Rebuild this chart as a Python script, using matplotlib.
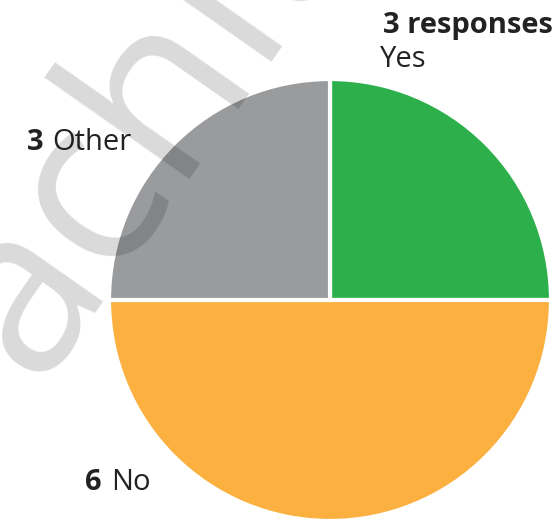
import matplotlib.pyplot as plt

labels = ['Yes', 'No', 'Other']
counts = [3, 6, 3]
colors = ['#2db04b', '#fbb040', '#9a9b9d']

plt.rcParams['font.family'] = ['Open Sans', 'DejaVu Sans']

fig = plt.figure(figsize=(5.54, 5.22), dpi=100)
ax = fig.add_axes([0, 0, 1, 1])

# pie in pixel coords (y down), so go counterclockwise to look clockwise
ax.pie(counts, colors=colors, center=(330, 300), radius=221,
       startangle=-90, counterclock=True,
       wedgeprops=dict(edgecolor='white', linewidth=3))
ax.set_xlim(0, 554)
ax.set_ylim(522, 0)
ax.set_aspect('auto')
ax.axis('off')

# watermark
ax.text(36, 384, 'achit', fontsize=168, color='black',
        alpha=0.15, rotation=55, rotation_mode='anchor',
        ha='left', va='baseline', zorder=5)

# labels
txt = '#222222'
ax.text(383, 33, f'{counts[0]} responses', fontsize=21, fontweight='bold', color=txt)
ax.text(380, 67, labels[0], fontsize=21, color=txt)
ax.text(27, 150, str(counts[2]), fontsize=21, fontweight='bold', color=txt)
ax.text(52, 150, labels[2], fontsize=21, color=txt)
ax.text(85, 490, str(counts[1]), fontsize=21, fontweight='bold', color=txt)
ax.text(111, 490, labels[1], fontsize=21, color=txt)

fig.savefig('out.png', dpi=100)
